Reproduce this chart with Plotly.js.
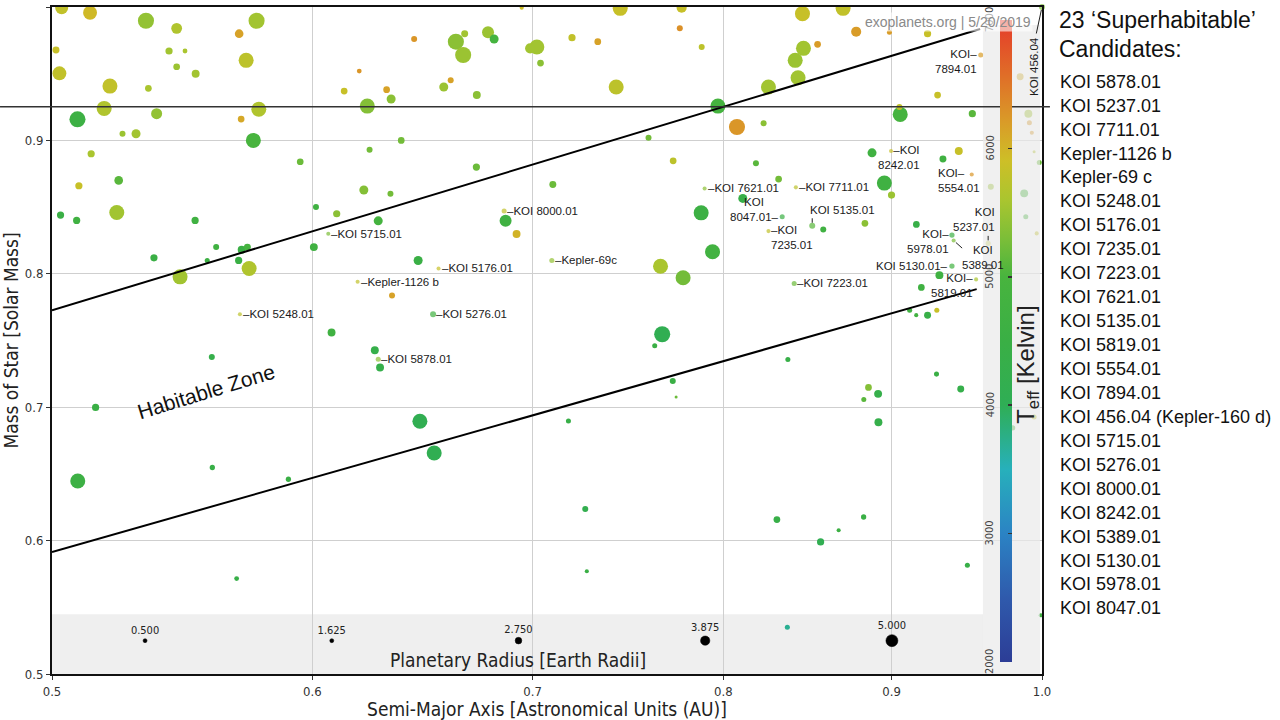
<!DOCTYPE html>
<html>
<head>
<meta charset="utf-8">
<script src="https://cdn.plot.ly/plotly-3.0.1.min.js"></script>
<style>html,body{margin:0;padding:0;background:#fff}#chart{width:1280px;height:720px}</style>
</head>
<body>
<div id="chart"></div>
<script>
// ---------- DATA ----------
// Background planets: semi-major axis (AU), stellar mass (Msun), planet radius (Earth radii), stellar Teff (K)
const bgA = [
0.5034,0.5135,0.534,0.5456,0.577,0.570,0.5014,0.5427,0.5488,0.5728,
0.5026,0.5456,0.5529,0.5207,0.5349,0.5186,0.538,0.5779,0.5708,0.509,
0.5253,0.5303,0.5757,0.5139,0.5949,0.5095,0.5239,
0.6947,0.7443,0.6443,0.6675,0.6634,0.6785,0.6814,0.6668,0.7021,0.6988,
0.7039,0.7196,0.7327,0.7422,0.620,0.6135,0.632,0.634,0.6235,0.6578,
0.661,0.6732,0.6385,0.6245,0.673,0.7592,0.71,0.622,0.6337,
0.777,0.8456,0.870,0.776,0.788,0.8462,0.8413,0.8546,0.878,0.8987,
0.923,0.843,0.8257,0.797,0.8077,0.8229,0.9055,0.905,0.9295,0.9524,
0.9848,0.7724,0.8185,0.8316,0.8878,0.933,0.9434,0.8955,0.900,0.811,0.9648,
0.9905,0.9912,0.9929,0.9945,0.9981,0.9876,0.9887,0.9963,0.9945,0.9797,0.9991,
0.7877,0.858,0.8834,0.9158,0.794,0.7778,0.9307,0.919,0.9115,0.9157,0.923,0.929,
0.503,0.5087,0.5232,0.5527,0.537,0.5609,0.5574,0.571,0.5733,0.5698,0.574,0.5469,0.6006,0.6015,0.6103,0.6081,0.5592,
0.6283,0.6869,0.6922,0.6461,0.7656,0.6344,0.6268,0.6291,0.7665,0.7625,
0.5155,0.5091,0.5594,0.590,0.569,0.6469,0.6534,0.7178,0.7263,0.7271,0.7722,0.774,0.837,0.9288,0.9447,0.8856,0.8916,0.8827,0.8918,0.8306,0.8673,0.8826,0.8564,0.9491,0.8367
];
const bgM = [
0.9995,0.9957,0.9897,0.984,0.9897,0.980,0.9678,0.967,0.967,0.960,
0.9503,0.9552,0.950,0.9407,0.939,0.924,0.920,0.9233,0.916,0.9158,
0.905,0.905,0.900,0.890,0.884,0.866,0.870,
0.9995,0.999,0.976,0.980,0.974,0.981,0.976,0.964,0.970,0.969,
0.958,0.977,0.974,0.940,0.952,0.937,0.938,0.931,0.9257,0.940,
0.945,0.934,0.900,0.893,0.880,0.902,0.867,0.8628,0.860,
0.9995,0.995,0.999,0.984,0.970,0.969,0.960,0.972,0.9815,0.981,
0.980,0.947,0.940,0.9257,0.910,0.9128,0.9195,0.925,0.934,0.920,
0.9477,0.8847,0.8828,0.871,0.8907,0.886,0.892,0.868,0.859,0.8565,0.8652,
0.920,0.9132,0.9057,0.8915,0.8835,0.8603,0.8427,0.8303,0.6927,0.6845,0.544,
0.8457,0.8333,0.8378,0.837,0.8165,0.797,0.799,0.7898,0.7727,0.769,0.769,0.7727,
0.844,0.840,0.846,0.840,0.812,0.820,0.810,0.818,0.820,0.810,0.804,0.7977,0.820,0.850,0.845,0.756,0.7377,
0.8397,0.8397,0.8298,0.810,0.8057,0.7838,0.7427,0.7298,0.7547,0.746,
0.6998,0.6447,0.6548,0.646,0.5715,0.6895,0.6657,0.6897,0.6237,0.577,0.7197,0.7077,0.7358,0.7248,0.7137,0.7148,0.710,0.7058,0.6887,0.6158,0.6078,0.6177,0.599,0.5815,0.535
];
const bgR = [
5.4,5.8,6.7,4.5,6.7,3.6,2.9,3.0,2.0,6.25,
5.8,2.8,3.3,6.25,2.8,6.25,4.6,6.25,2.8,6.7,
2.5,3.75,6.25,3.0,2.8,3.0,3.6,
1.7,6.25,2.5,2.9,6.7,5.0,3.75,6.7,6.25,4.2,
2.8,3.0,2.8,6.25,2.0,2.8,2.8,3.75,6.25,3.75,
2.5,3.3,2.8,2.5,3.0,2.5,2.9,3.75,2.5,
4.2,6.25,6.25,2.5,2.5,6.25,6.25,2.8,4.2,2.1,
3.0,6.25,6.25,6.25,6.7,2.5,6.25,2.5,2.8,3.0,
2.9,2.8,2.5,2.8,3.75,2.9,3.3,6.25,3.0,3.75,2.5,
3.3,2.1,1.7,1.25,2.1,3.3,2.1,1.7,2.1,2.1,1.7,
6.25,2.5,2.8,2.8,6.25,6.25,3.3,2.8,2.1,1.7,2.9,2.1,
3.0,3.0,6.25,3.0,3.0,2.5,2.1,3.3,2.9,3.0,6.25,6.25,3.3,2.5,3.0,3.3,2.5,
3.75,5.0,3.3,3.75,6.25,2.5,3.3,3.3,6.7,2.1,
3.0,6.25,2.2,2.2,2.0,6.25,6.25,2.1,2.5,1.7,2.5,1.25,2.1,2.1,2.9,2.8,3.3,2.1,3.3,2.8,1.7,2.2,3.0,2.1,2.1
];
const bgT = [
5800,5950,5450,5650,5550,6150,5850,5550,5600,5750,
5800,5500,5550,5800,5600,5650,5450,5650,6100,4600,
5500,5550,5000,5600,5200,5850,5100,
5900,5850,6250,5550,5400,5500,4900,5500,5550,5550,
5400,5800,6150,5750,6250,5850,6150,5400,5350,5500,
6150,5400,5250,5250,5200,5250,5200,5350,5250,
5850,5850,5800,6300,5750,5550,5500,6200,6200,6200,
5850,5550,5550,4900,6250,5400,4900,5800,5850,5100,
6050,5750,5100,5250,4700,4700,5850,4700,5500,4400,5500,
5550,6200,6200,5700,5200,5000,5000,5800,5800,5000,4700,
4600,4700,5400,4400,4800,5250,4700,4700,4700,4800,4400,5850,
4500,4700,5550,4700,4500,4700,4600,4500,4900,4500,5650,5550,4700,4700,5400,4700,4300,
4900,4700,6000,4500,5600,6150,4300,4300,4100,4500,
4500,4600,4400,4500,4400,4100,4100,4400,4200,4500,4500,5200,4400,4500,4300,5350,4300,5100,4300,4400,4600,4500,4100,4400,3700
];

// 23 'superhabitable' candidates (list order)
const candName = ['KOI 5878.01','KOI 5237.01','KOI 7711.01','Kepler-1126 b','Kepler-69 c','KOI 5248.01','KOI 5176.01','KOI 7235.01','KOI 7223.01','KOI 7621.01','KOI 5135.01','KOI 5819.01','KOI 5554.01','KOI 7894.01','KOI 456.04 (Kepler-160 d)','KOI 5715.01','KOI 5276.01','KOI 8000.01','KOI 8242.01','KOI 5389.01','KOI 5130.01','KOI 5978.01','KOI 8047.01'];
const candTag  = ['KOI 5878.01','KOI 5237.01','KOI 7711.01','Kepler-1126 b','Kepler-69c','KOI 5248.01','KOI 5176.01','KOI 7235.01','KOI 7223.01','KOI 7621.01','KOI 5135.01','KOI 5819.01','KOI 5554.01','KOI 7894.01','KOI 456.04','KOI 5715.01','KOI 5276.01','KOI 8000.01','KOI 8242.01','KOI 5389.01','KOI 5130.01','KOI 5978.01','KOI 8047.01'];
const candA = [0.6283,0.963,0.8417,0.6193,0.7095,0.5703,0.6554,0.8257,0.8407,0.7896,0.8514,0.9549,0.952,0.958,1.0,0.6067,0.6529,0.6862,0.8997,0.940,0.9389,0.9389,0.8337];
const candM = [0.736,0.8228,0.8648,0.794,0.810,0.7697,0.804,0.832,0.7928,0.864,0.836,0.7958,0.8745,0.964,1.0,0.830,0.7697,0.847,0.892,0.825,0.8058,0.829,0.8427];
const candR = [2.1,2.1,1.7,1.7,2.1,1.7,1.7,1.7,2.1,1.7,2.5,1.7,1.7,2.1,2.5,1.7,2.5,2.1,1.7,1.7,2.2,2.2,2.1];
const candT = [5400,5700,5750,5800,5450,5750,5850,5800,5200,5400,5100,5600,6250,6200,5300,5300,4700,5800,5850,5300,4800,4600,4500];

// Habitable zone boundaries
const hzUpperA = [0.5, 0.9576];
const hzUpperM = [0.7727, 0.9835];
const hzLowerA = [0.5, 0.9553];
const hzLowerM = [0.5915, 0.7885];

// Size legend radii, axis ticks, colorbar ticks, reference line
const legendRadii = [0.5, 1.625, 2.75, 3.875, 5.0];
const xTicks = [0.5, 0.6, 0.7, 0.8, 0.9, 1.0];
const yTicks = [0.5, 0.6, 0.7, 0.8, 0.9, 1.0];
const cbTicks = [2000, 3000, 4000, 5000, 6000, 7000];
const refLineMass = 0.9252;

// ---------- STYLE ----------
const COND = '"DejaVu Sans Condensed", "Liberation Sans Narrow", "Arial Narrow", "Roboto", sans-serif';
const ARIAL = '"Liberation Sans", Arial, sans-serif';
const SIZEREF = 1/2.4;
const TMIN = 2000, TMAX = 7000;
const colorscale = [
  [0.00,'#2c3d96'],[0.10,'#2f5aac'],[0.20,'#2b83c4'],[0.30,'#27b0bb'],
  [0.40,'#2fae55'],[0.50,'#3aaf45'],[0.60,'#48b43e'],[0.66,'#7cbe38'],
  [0.72,'#aac52f'],[0.78,'#cdbf27'],[0.84,'#d99c28'],[0.92,'#e06a28'],[1.00,'#e53a2a']
];
const CB = {x:0.9576, y:0.4993, len:0.9625};

const tagStyle = {
  'KOI 5878.01': {t:'–KOI 5878.01', xa:'left', xs:2},
  'KOI 5237.01': {t:'KOI<br>5237.01', xa:'right', xs:8, ya:'bottom', ys:9, al:'right', tick:[0,-9]},
  'KOI 7711.01': {t:'–KOI 7711.01', xa:'left', xs:2},
  'Kepler-1126 b': {t:'–Kepler-1126 b', xa:'left', xs:2},
  'Kepler-69c': {t:'–Kepler-69c', xa:'left', xs:2},
  'KOI 5248.01': {t:'–KOI 5248.01', xa:'left', xs:2},
  'KOI 5176.01': {t:'–KOI 5176.01', xa:'left', xs:2},
  'KOI 7235.01': {t:'–KOI<br>7235.01', xa:'left', xs:2, ya:'top', ys:8, al:'left'},
  'KOI 7223.01': {t:'–KOI 7223.01', xa:'left', xs:2},
  'KOI 7621.01': {t:'–KOI 7621.01', xa:'left', xs:2},
  'KOI 5135.01': {t:'KOI 5135.01', xa:'left', xs:-3, ya:'bottom', ys:9, tick:[0,-9]},
  'KOI 5819.01': {t:'KOI–<br>5819.01', xa:'right', xs:-2, ya:'top', ys:8, al:'right'},
  'KOI 5554.01': {t:'KOI–<br>5554.01', xa:'right', xs:9, ya:'top', ys:8, al:'left'},
  'KOI 7894.01': {t:'KOI–<br>7894.01', xa:'right', xs:-3, ya:'top', ys:8, al:'right'},
  'KOI 456.04': {t:'KOI 456.04', xa:'center', xs:-8, ya:'middle', ys:-60, ang:-90, tick:[-6,28]},
  'KOI 5715.01': {t:'–KOI 5715.01', xa:'left', xs:2},
  'KOI 5276.01': {t:'–KOI 5276.01', xa:'left', xs:2},
  'KOI 8000.01': {t:'–KOI 8000.01', xa:'left', xs:2},
  'KOI 8242.01': {t:'–KOI<br>8242.01', xa:'right', xs:30, ya:'top', ys:8, al:'right'},
  'KOI 5389.01': {t:'KOI<br>5389.01', xa:'left', xs:7, ya:'top', ys:-3, al:'center', tick:[10,9]},
  'KOI 5130.01': {t:'KOI 5130.01–', xa:'right', xs:-3},
  'KOI 5978.01': {t:'KOI–<br>5978.01', xa:'right', xs:-2, ya:'top', ys:8, al:'right'},
  'KOI 8047.01': {t:'KOI<br>8047.01–', xa:'right', xs:-2, ya:'bottom', ys:-7, al:'center'}
};

// ---------- TRACES ----------
const traces = [
  {type:'scatter', mode:'markers', x:bgA, y:bgM, hoverinfo:'skip', cliponaxis:true,
   marker:{color:bgT, colorscale:colorscale, cmin:TMIN, cmax:TMAX, size:bgR, sizemode:'diameter', sizeref:SIZEREF, sizemin:1, line:{width:0}, opacity:1,
     showscale:true,
     colorbar:{x:CB.x, xanchor:'left', xref:'paper', xpad:0, y:CB.y, yanchor:'middle', ypad:0, len:CB.len, lenmode:'fraction',
       thickness:12, thicknessmode:'pixels', outlinewidth:0, borderwidth:0, bgcolor:'rgba(0,0,0,0)',
       ticks:'inside', ticklen:4, tickwidth:1.5, tickcolor:'#333', tickmode:'array', tickvals:cbTicks, showticklabels:false}}},
  {type:'scatter', mode:'markers', x:candA, y:candM, text:candName, hoverinfo:'text', cliponaxis:false,
   marker:{color:candT, colorscale:colorscale, cmin:TMIN, cmax:TMAX, size:candR, sizemode:'diameter', sizeref:SIZEREF, sizemin:1, line:{width:0}, showscale:false}},
  {type:'scatter', mode:'lines', x:hzUpperA, y:hzUpperM, line:{color:'#000', width:2}, hoverinfo:'skip'},
  {type:'scatter', mode:'lines', x:hzLowerA, y:hzLowerM, line:{color:'#000', width:2}, hoverinfo:'skip'},
  {type:'scatter', mode:'markers+text', xaxis:'x2', yaxis:'y2', cliponaxis:false, hoverinfo:'skip', opacity:1,
   x:legendRadii.map((r,i)=>0.094 + i*0.1886), y:legendRadii.map(()=>0.05),
   text:legendRadii.map(r=>r.toFixed(3)), textposition:'top center',
   textfont:{family:COND, size:11, color:'#222'},
   marker:{size:legendRadii, sizemode:'diameter', sizeref:SIZEREF, sizemin:2, color:'#000000', opacity:1, line:{width:0.5, color:'#000'}}}
];

// ---------- ANNOTATIONS ----------
const ann = [];
candTag.forEach((tag,i)=>{
  const s = tagStyle[tag];
  ann.push({x:Math.log10(candA[i]), y:candM[i], xref:'x', yref:'y', text:s.t, showarrow:false,
    xanchor:s.xa, yanchor:s.ya||'middle', xshift:s.xs||0, yshift:s.ys||0, align:s.al||'left',
    textangle:s.ang||0, font:{family:ARIAL, size:11.5, color:'#1a1a1a'}, borderpad:0});
  if (s.tick) {
    ann.push({x:Math.log10(candA[i]), y:candM[i], xref:'x', yref:'y', text:'', showarrow:true,
      arrowhead:0, arrowwidth:1, arrowcolor:'#222', ax:s.tick[0], ay:s.tick[1], standoff:3});
  }
});
// colorbar tick labels (rotated, on left of bar)
cbTicks.forEach(v=>{
  ann.push({xref:'paper', yref:'paper', x:0.9475, y:CB.y - CB.len/2 + (v-TMIN)/(TMAX-TMIN)*CB.len,
    text:String(v), textangle:-90, showarrow:false, xanchor:'center', yanchor:'middle',
    font:{family:COND, size:11, color:'#444'}});
});
ann.push({xref:'paper', yref:'paper', x:0.9855, y:0.463, xanchor:'center', yanchor:'middle',
  text:'T<sub>eff</sub> [Kelvin]', textangle:-90,
  showarrow:false, font:{family:ARIAL, size:24, color:'#222'}});
ann.push({xref:'paper', yref:'paper', x:0.991, y:0.9775, xanchor:'right', yanchor:'middle',
  text:'exoplanets.org | 5/20/2019', showarrow:false, bgcolor:'rgba(255,255,255,0.6)', borderpad:1,
  font:{family:ARIAL, size:14, color:'#8a8a8a'}});
ann.push({xref:'paper', yref:'paper', x:0.1556, y:0.4228, xanchor:'center', yanchor:'middle',
  text:'Habitable Zone', textangle:-17,
  showarrow:false, font:{family:ARIAL, size:21, color:'#111'}});
ann.push({xref:'paper', yref:'paper', x:0.4707, y:0.021, xanchor:'center', yanchor:'middle',
  text:'Planetary Radius [Earth Radii]',
  showarrow:false, font:{family:COND, size:19, color:'#222'}});
// right panel
const PX = (1058-52)/990;
ann.push({xref:'paper', yref:'paper', x:PX, y:(674-20)/667, xanchor:'left', yanchor:'middle', borderpad:0,
  text:'23 ‘Superhabitable’', showarrow:false, font:{family:ARIAL, size:23, color:'#111'}});
ann.push({xref:'paper', yref:'paper', x:PX, y:(674-49)/667, xanchor:'left', yanchor:'middle', borderpad:0,
  text:'Candidates:', showarrow:false, font:{family:ARIAL, size:23, color:'#111'}});
candName.forEach((n,i)=>{
  ann.push({xref:'paper', yref:'paper', x:PX, y:(674-(81.7+i*23.94))/667, xanchor:'left', yanchor:'middle',
    text:n, showarrow:false, font:{family:ARIAL, size:18, color:'#111'}});
});

// ---------- SHAPES ----------
const shapes = [
  {type:'rect', xref:'paper', yref:'y', x0:0, x1:0.9404, y0:0.5, y1:0.5447, fillcolor:'#efefef', line:{width:0}, layer:'below'},
  {type:'rect', xref:'paper', yref:'paper', x0:0.9404, x1:0.998, y0:0, y1:0.973, fillcolor:'rgba(233,233,233,0.7)', line:{width:0}, layer:'above'},
  {type:'line', xref:'paper', yref:'paper', x0:-0.0525, x1:1.008, y0:(refLineMass-0.5)/0.5, y1:(refLineMass-0.5)/0.5, line:{color:'#333', width:1.5}, layer:'above'}
];

const axisCommon = {showgrid:true, gridcolor:'#cfcfcf', gridwidth:1, zeroline:false, showline:true, mirror:true,
  linecolor:'#111', linewidth:2, ticks:'outside', ticklen:4, tickcolor:'#333', automargin:false,
  tickfont:{family:COND, size:13, color:'#333'}};

const layout = {
  width:1280, height:720, margin:{l:52, r:238, t:7, b:46}, paper_bgcolor:'#fff', plot_bgcolor:'#fff',
  showlegend:false,
  xaxis:Object.assign({}, axisCommon, {type:'log', range:[Math.log10(0.5), 0], tickmode:'array', tickvals:xTicks, ticktext:xTicks.map(v=>v.toFixed(1)),
    title:{text:'Semi-Major Axis [Astronomical Units (AU)]', font:{family:COND, size:19, color:'#222'}, standoff:2}}),
  yaxis:Object.assign({}, axisCommon, {range:[0.5, 1.0], tickmode:'array', tickvals:yTicks, ticktext:yTicks.map(v=>v.toFixed(1)),
    title:{text:'Mass of Star [Solar Mass]', font:{family:COND, size:19, color:'#222'}, standoff:2}}),
  xaxis2:{overlaying:'x', range:[0,1], visible:false, fixedrange:true},
  yaxis2:{overlaying:'y', range:[0,1], visible:false, fixedrange:true},
  shapes:shapes, annotations:ann
};

Plotly.newPlot('chart', traces, layout, {displayModeBar:false, staticPlot:true});
</script>
</body>
</html>
